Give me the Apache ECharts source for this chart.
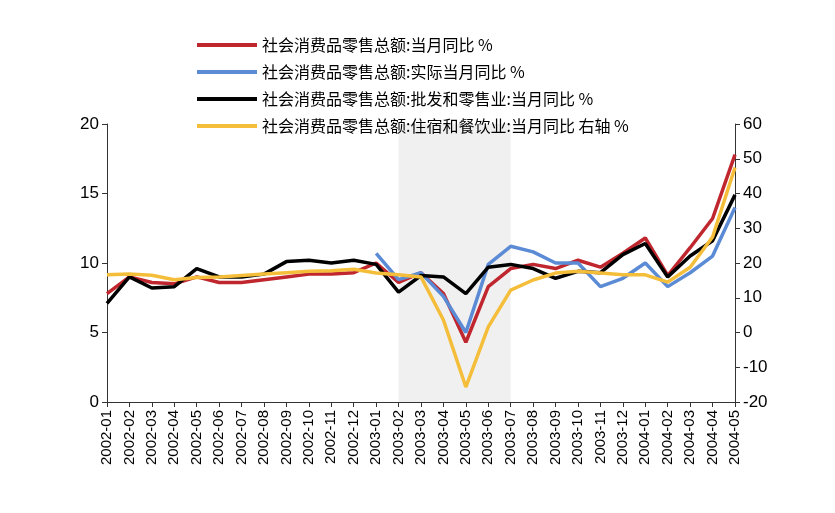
<!DOCTYPE html><html><head><meta charset="utf-8"><script src="https://cdn.jsdelivr.net/npm/echarts@6/dist/echarts.min.js"></script></head><body style="margin:0"><div id="c" style="width:835px;height:513px"></div><script>
const categories=[];for(const y of [2002,2003,2004]){for(let m=1;m<=12;m++){if(y===2004&&m>5)break;categories.push(y+'-'+String(m).padStart(2,'0'));}}
const retail=[7.8,9.0,8.6,8.5,9.0,8.6,8.6,8.8,9.0,9.2,9.2,9.3,10.0,8.6,9.3,7.8,4.3,8.3,9.6,9.9,9.6,10.2,9.7,10.7,11.8,9.1,11.1,13.2,17.8];
const real=[null,null,null,null,null,null,null,null,null,null,null,null,10.7,8.8,9.3,7.6,5.0,9.9,11.2,10.8,10.0,10.0,8.3,8.9,10.0,8.3,9.3,10.5,14.0];
const wholesale=[7.1,9.0,8.2,8.3,9.6,9.0,9.0,9.2,10.1,10.2,10.0,10.2,9.9,7.9,9.1,9.0,7.8,9.7,9.9,9.6,8.9,9.4,9.3,10.6,11.4,9.0,10.5,11.6,14.9];
const catering=[16.6,16.8,16.5,15.2,15.8,16.0,16.4,16.8,17.2,17.6,17.8,18.2,17.1,16.6,16.0,3.6,-15.7,1.6,12.2,15.1,17.1,17.6,17.1,16.6,16.6,14.5,18.8,27.5,47.5];
const names=['社会消费品零售总额:当月同比 %','社会消费品零售总额:实际当月同比 %','社会消费品零售总额:批发和零售业:当月同比 %','社会消费品零售总额:住宿和餐饮业:当月同比 右轴 %'];
const colors=['#C0262D','#5B8BD5','#000000','#F5BE3A'];
const F='"Noto Sans CJK SC",sans-serif';
const ax={axisLine:{show:true,lineStyle:{color:'#333'}},axisTick:{show:true,inside:false,lineStyle:{color:'#333'}},splitLine:{show:false},axisLabel:{color:'#000',fontSize:17,fontFamily:'Arial,Liberation Sans'}};
const mk=(i,d,yi)=>({name:names[i],type:'line',data:d,yAxisIndex:yi,symbol:'none',smooth:false,lineStyle:{width:3.5,color:colors[i]},itemStyle:{color:colors[i]}});
const s0=mk(0,retail,0);
s0.markArea={silent:true,itemStyle:{color:'rgba(230,230,230,0.6)'},data:[[{xAxis:'2003-02'},{xAxis:'2003-07'}]]};
echarts.init(document.getElementById('c')).setOption({animation:false,
legend:{orient:'vertical',left:192,top:31,itemGap:9,itemWidth:60,itemHeight:4,icon:'rect',textStyle:{fontSize:16,fontFamily:F,color:'#000',lineHeight:18},data:names},
grid:{left:107,right:100,top:124,bottom:111},
xAxis:{type:'category',boundaryGap:false,data:categories,axisLine:{lineStyle:{color:'#333'}},axisTick:{show:true,interval:0,lineStyle:{color:'#333'}},axisLabel:{rotate:90,interval:0,fontSize:15,color:'#000',fontFamily:'Arial,Liberation Sans'}},
yAxis:[Object.assign({type:'value',min:0,max:20,interval:5},ax),Object.assign({type:'value',min:-20,max:60,interval:10},ax)],
series:[s0,mk(1,real,0),mk(2,wholesale,0),mk(3,catering,1)]});
</script></body></html>
